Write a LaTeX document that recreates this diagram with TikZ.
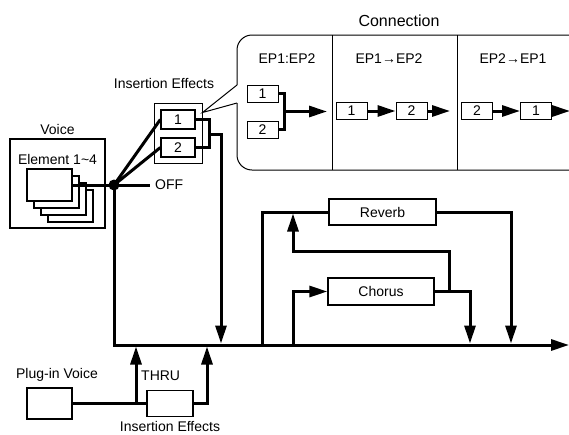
\documentclass[tikz,border=0pt]{standalone}
\usepackage{fontspec}
\setmainfont{Liberation Sans}
\usetikzlibrary{arrows.meta}
\begin{document}
\begin{tikzpicture}[x=1pt,y=-1pt,
  font=\fontsize{14}{16}\selectfont,
  sig/.style={line width=3pt},
  arr/.style={sig,-{Triangle[length=18pt,width=11pt]}},
  box/.style={draw,line width=1.3pt,fill=white,inner sep=0pt},
  sbox/.style={draw,line width=1pt,fill=white,minimum width=31pt,minimum height=17pt,inner sep=0pt},
  conn/.style={line width=1pt},
  lbl/.style={inner sep=0pt}]
\useasboundingbox (0,0) rectangle (569,434);
\clip (0,0) rectangle (569,434);

% ---------- Voice ----------
\node[box,minimum width=95pt,minimum height=89pt] (voice) at (57.5,183.5) {};
\node[lbl] (voicet) at (57.5,129) {Voice};
\node[lbl] (elemt) at (57.5,159) {Element 1\textasciitilde4};
\foreach \k in {3,2,1,0}
  \node[box,minimum width=45pt,minimum height=32pt] (el\k) at (49.5+7*\k,185+7*\k) {};

% ---------- Insertion effects (top) ----------
\node[box,line width=1pt,minimum width=48pt,minimum height=60pt] (iefx) at (178,133) {};
\node[lbl] (iet) at (164,83) {Insertion Effects};
\node[box,minimum width=34pt,minimum height=19pt] (ie1) at (178,119.5) {1};
\node[box,minimum width=34pt,minimum height=19pt] (ie2) at (178,147.5) {2};

\coordinate (j) at (114,185);
\coordinate (off) at (150,185);
\draw[sig] (el0.east) -- (j);
\draw[sig] (j) -- (off);
\draw[sig] (j) -- (ie1.west);
\draw[sig] (j) -- (ie2.west);
\node[lbl,anchor=west] (offt) at (155,185) {OFF};

\coordinate (br1) at (209,119.5);
\coordinate (br2) at (209,147.5);
\coordinate (br3) at (209,134);
\coordinate (br4) at (221,134);
\coordinate (br5) at (221,343.5);
\draw[sig] (ie1.east) -- (br1) -- (br2) -- (ie2.east);
\draw[arr] (br3) -- (br4) -- (br5);

% main bus
\coordinate (bus0) at (114,345);
\coordinate (busend) at (569,345);
\draw[arr] (j) -- (bus0) -- (busend);
\node[circle,fill=black,inner sep=0pt,minimum size=11pt] (dot) at (j) {};

% ---------- Connection callout ----------
\node[lbl] (cont) at (399,21) {\fontsize{16}{18}\selectfont Connection};
\coordinate (ctr) at (580,35);
\coordinate (ctl) at (237,35);
\coordinate (cn1) at (237,85);
\coordinate (cn2) at (237,103);
\coordinate (cbl) at (237,170);
\coordinate (cbr) at (580,170);
\coordinate (cpt) at ([yshift=-10pt]iefx.north east);
\draw[conn,rounded corners=15pt] (ctr) -- (ctl) -- (cn1);
\draw[conn] (cn1) -- (cpt) -- (cn2);
\draw[conn,rounded corners=15pt] (cn2) -- (cbl) -- (cbr);
\coordinate (d1t) at (332,35);
\coordinate (d1b) at (332,170);
\coordinate (d2t) at (457,35);
\coordinate (d2b) at (457,170);
\draw[conn] (d1t) -- (d1b);
\draw[conn] (d2t) -- (d2b);

\node[lbl] (p1t) at (287,59) {EP1:EP2};
\node[lbl] (p2t) at (389,59) {EP1→EP2};
\node[lbl] (p3t) at (513,59) {EP2→EP1};

% panel 1
\node[sbox] (a1) at (262.5,93.5) {1};
\node[sbox] (a2) at (262.5,129.5) {2};
\coordinate (ab1) at (284,93.5);
\coordinate (ab2) at (284,129.5);
\coordinate (ab3) at (284,111.5);
\coordinate (ab4) at (327,111.5);
\draw[sig] (a1.east) -- (ab1) -- (ab2) -- (a2.east);
\draw[arr] (ab3) -- (ab4);

% panel 2
\node[sbox] (b1) at (351.5,111) {1};
\node[sbox] (b2) at (411.5,111) {2};
\coordinate (bo) at (450,111);
\draw[arr] (b1.east) -- (b2.west);
\draw[arr] (b2.east) -- (bo);

% panel 3
\node[sbox] (c2) at (477,111) {2};
\node[sbox] (c1) at (536,111) {1};
\coordinate (co) at (570,111);
\draw[arr] (c2.east) -- (c1.west);
\draw[arr] (c1.east) -- (co);

% ---------- Reverb / Chorus ----------
\node[box,minimum width=107pt,minimum height=26pt] (rev) at (382.5,212) {Reverb};
\node[box,minimum width=106pt,minimum height=27pt] (cho) at (381,291.5) {Chorus};
\coordinate (rs0) at (262,345);
\coordinate (rs1) at (262,212);
\draw[sig] (rs0) -- (rs1) -- (rev.west);
\coordinate (ro1) at (511,212);
\coordinate (ro2) at (511,343.5);
\draw[arr] (rev.east) -- (ro1) -- (ro2);
\coordinate (cs0) at (293,345);
\coordinate (cs1) at (293,291.5);
\draw[arr] (cs0) -- (cs1) -- (cho.west);
\coordinate (co1) at (470,291.5);
\coordinate (co2) at (470,343.5);
\draw[arr] (cho.east) -- (co1) -- (co2);
\coordinate (cr0) at (449,291.5);
\coordinate (cr1) at (449,251);
\coordinate (cr2) at (293,251);
\coordinate (cr3) at (293,213.5);
\draw[arr] (cr0) -- (cr1) -- (cr2) -- (cr3);

% ---------- Plug-in voice ----------
\node[box,minimum width=45pt,minimum height=31pt] (plug) at (49.5,403.5) {};
\node[lbl] (plugt) at (57,375) {Plug-in Voice};
\node[box,minimum width=46pt,minimum height=26pt] (ins2) at (170,403.5) {};
\node[lbl] (ins2t) at (170,426) {Insertion Effects};
\draw[sig] (plug.east) -- (ins2.west);
\coordinate (t0) at (136,403.5);
\coordinate (t1) at (136,346.5);
\draw[arr] (t0) -- (t1);
\node[lbl,anchor=west] (thru) at (141,376) {THRU};
\coordinate (i1) at (207,403.5);
\coordinate (i2) at (207,346.5);
\draw[arr] (ins2.east) -- (i1) -- (i2);
\end{tikzpicture}
\end{document}
